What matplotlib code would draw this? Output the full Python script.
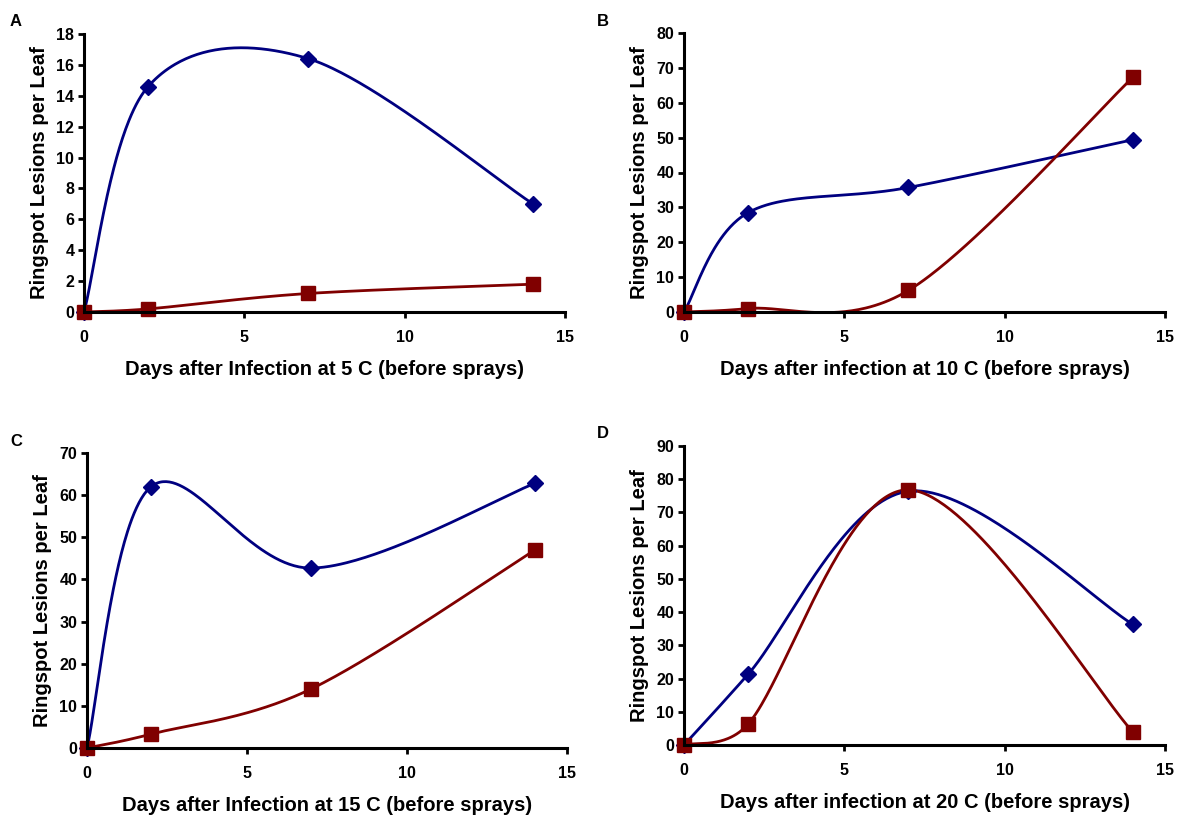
import numpy as np
import matplotlib
matplotlib.use('Agg')
import matplotlib.pyplot as plt

plt.rcParams['font.family'] = ['Liberation Sans', 'DejaVu Sans']
plt.rcParams['font.weight'] = 'bold'

days = [0, 2, 7, 14]

# lesions per leaf, two treatments per temperature
blue_5c = [0, 14.6, 16.4, 7.0]
red_5c = [0, 0.2, 1.2, 1.8]
blue_10c = [0, 28.5, 35.7, 49.4]
red_10c = [0, 1.0, 6.2, 67.3]
blue_15c = [0, 62.0, 42.7, 62.8]
red_15c = [0, 3.3, 14.0, 47.0]
blue_20c = [0, 21.3, 76.4, 36.3]
red_20c = [0, 6.3, 76.8, 3.9]

panels = [
    ('A', 'Days after Infection at 5 C (before sprays)', blue_5c, red_5c, 18, 2),
    ('B', 'Days after infection at 10 C (before sprays)', blue_10c, red_10c, 80, 10),
    ('C', 'Days after Infection at 15 C (before sprays)', blue_15c, red_15c, 70, 10),
    ('D', 'Days after infection at 20 C (before sprays)', blue_20c, red_20c, 90, 10),
]

# plot areas in pixels: left, top, right, bottom
boxes = [(84, 34, 565, 312), (684, 33, 1165, 312),
         (87, 453, 567, 748), (684, 446, 1165, 745)]
letters = [(10, 21), (597, 21), (10, 442), (597, 433)]

W, H = 1178, 816
NAVY = '#000080'
MAROON = '#800000'


def smooth(xs, ys, kx, ky, n=80):
    # spreadsheet-style smoothed line: cubic bezier through each point,
    # worked out in pixel units so the handle limit acts on screen lengths
    p = np.column_stack([np.asarray(xs) * kx, np.asarray(ys) * ky]).astype(float)
    ext = np.vstack([p[0], p, p[-1]])
    out = []
    t = np.linspace(0, 1, n)[:, None]
    for i in range(len(p) - 1):
        p0, p1 = ext[i + 1], ext[i + 2]
        seg_len = np.hypot(*(p1 - p0))
        h1 = (ext[i + 2] - ext[i]) / 6
        h2 = (ext[i + 3] - ext[i + 1]) / 6
        for h in (h1, h2):
            hl = np.hypot(*h)
            if hl > seg_len / 2:
                h *= (seg_len / 2) / hl
        c1 = p0 + h1
        c2 = p1 - h2
        seg = ((1 - t) ** 3) * p0 + 3 * ((1 - t) ** 2) * t * c1 + 3 * (1 - t) * t ** 2 * c2 + t ** 3 * p1
        out.append(seg if i == 0 else seg[1:])
    out = np.vstack(out)
    return out[:, 0] / kx, out[:, 1] / ky


fig = plt.figure(figsize=(W / 100, H / 100), dpi=100)

for (letter, xlabel, blue, red, ymax, ystep), (l, t, r, b), (lx, ly) in zip(panels, boxes, letters):
    ax = fig.add_axes([l / W, 1 - b / H, (r - l) / W, (b - t) / H])
    kx, ky = (r - l) / 15, (b - t) / ymax
    for vals, col, mk, ms in [(blue, NAVY, 'D', 8), (red, MAROON, 's', 9.5)]:
        sx, sy = smooth(days, vals, kx, ky)
        ax.plot(sx, sy, color=col, lw=2, zorder=3)
        ax.plot(days, vals, ls='none', marker=mk, ms=ms, color=col, zorder=4, clip_on=False)
    ax.set_xlim(0, 15)
    ax.set_ylim(0, ymax)
    ax.set_xticks([0, 5, 10, 15])
    ax.set_yticks(np.arange(0, ymax + 1, ystep))
    for s in ['top', 'right']:
        ax.spines[s].set_visible(False)
    for s in ['left', 'bottom']:
        ax.spines[s].set_linewidth(2.2)
        ax.spines[s].set_zorder(5)
    ax.tick_params(direction='out', width=2, length=4, labelsize=11.5, pad=3)
    ax.tick_params(axis='x', pad=9)
    ax.set_xlabel(xlabel, fontsize=14.5, fontweight='bold', labelpad=11)
    ax.set_ylabel('Ringspot Lesions per Leaf', fontsize=14.5, fontweight='bold', labelpad=5)
    fig.text(lx / W, 1 - ly / H, letter, fontsize=12, fontweight='bold', ha='left', va='center')

fig.savefig('out.png', dpi=100)
